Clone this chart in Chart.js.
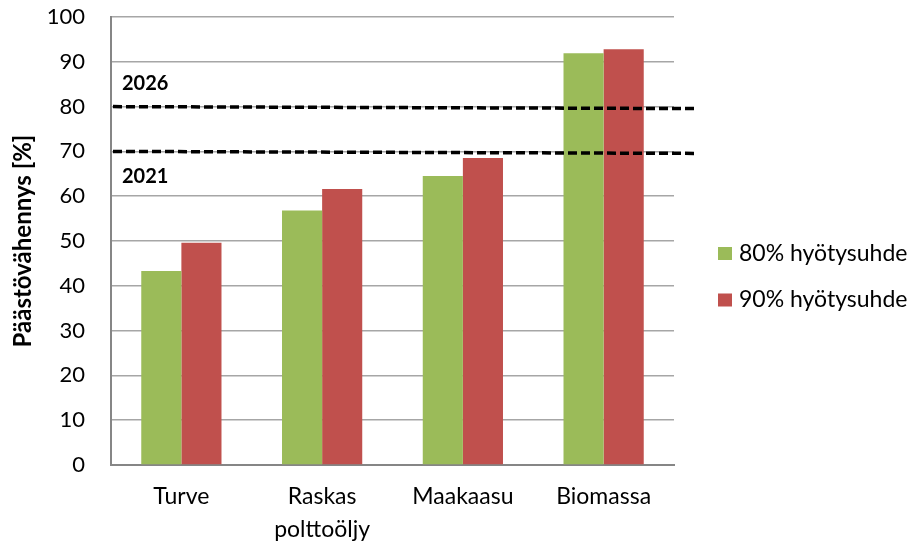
<!DOCTYPE html>
<html>
<head>
<meta charset="utf-8">
<script src="https://cdn.jsdelivr.net/npm/chart.js@4"></script>
<style>
  html, body { margin: 0; padding: 0; background: #fff; }
  #wrap { width: 918px; height: 548px; }
</style>
</head>
<body>
<div id="wrap"><canvas id="c" width="918" height="548"></canvas></div>
<script>
// Fuel categories along the x axis
const categories = ['Turve', ['Raskas', 'polttoöljy'], 'Maakaasu', 'Biomassa'];
// Emission reduction [%] at two boiler efficiencies
const eff80 = [43.3, 56.8, 64.5, 91.9];
const eff90 = [49.6, 61.6, 68.5, 92.8];
const seriesNames = ['80% hyötysuhde', '90% hyötysuhde'];
// Required reduction thresholds
const thresholds = [
  { year: '2026', value: 80, labelAbove: true },
  { year: '2021', value: 70, labelAbove: false }
];
const yTicks = { min: 0, max: 100, step: 10 };

const FONT = 'Lato, "Open Sans", sans-serif';
const GREEN = '#9BBB59';
const RED = '#C0504D';

// Dashed threshold lines with their year labels
const thresholdPlugin = {
  id: 'thresholds',
  afterDatasetsDraw(chart) {
    const { ctx, chartArea, scales } = chart;
    ctx.save();
    thresholds.forEach(t => {
      const y = scales.y.getPixelForValue(t.value);
      ctx.beginPath();
      ctx.setLineDash([9, 4]);
      ctx.lineWidth = 3.5;
      ctx.strokeStyle = '#000';
      ctx.moveTo(chartArea.left + 2, y);
      ctx.lineTo(chartArea.right + 21, y + 2);
      ctx.stroke();
      ctx.setLineDash([]);
      ctx.fillStyle = '#000';
      ctx.font = 'bold 20px ' + FONT;
      ctx.textAlign = 'left';
      ctx.textBaseline = 'middle';
      ctx.fillText(t.year, chartArea.left + 11, t.labelAbove ? y - 23 : y + 25);
    });
    ctx.restore();
  }
};

// Legend at the right side
const sideLegend = {
  id: 'sideLegend',
  afterDraw(chart) {
    const { ctx } = chart;
    ctx.save();
    chart.data.datasets.forEach((ds, i) => {
      const cy = 253.5 + i * 46.5;
      ctx.fillStyle = ds.backgroundColor;
      ctx.fillRect(718, cy - 6.5, 14, 13);
      ctx.fillStyle = '#000';
      ctx.font = '23px ' + FONT;
      ctx.textAlign = 'left';
      ctx.textBaseline = 'middle';
      ctx.fillText(ds.label, 739, cy);
    });
    ctx.restore();
  }
};

new Chart(document.getElementById('c'), {
  type: 'bar',
  data: {
    labels: categories,
    datasets: [
      { label: seriesNames[0], data: eff80, backgroundColor: GREEN },
      { label: seriesNames[1], data: eff90, backgroundColor: RED }
    ]
  },
  options: {
    responsive: false,
    animation: false,
    events: [],
    layout: { padding: { top: 17, right: 244, left: 0, bottom: 0 } },
    plugins: { legend: { display: false }, tooltip: { enabled: false } },
    datasets: { bar: { barPercentage: 1.0, categoryPercentage: 0.57 } },
    scales: {
      x: {
        grid: { display: false, drawTicks: false },
        border: { display: true, color: '#868686', width: 2 },
        ticks: { color: '#000', font: { family: FONT, size: 23, lineHeight: 1.45 }, padding: 15, maxRotation: 0, autoSkip: false },
        afterFit(s) { s.height = 83; s.paddingLeft = 0; s.paddingRight = 0; }
      },
      y: {
        min: yTicks.min, max: yTicks.max,
        grid: { color: '#a6a6a6', lineWidth: 1.5, drawTicks: false },
        border: { display: true, color: '#868686', width: 2 },
        ticks: { stepSize: yTicks.step, color: '#000', font: { family: FONT, size: 22 }, padding: 26 },
        title: {
          display: true, text: 'Päästövähennys [%]', color: '#000',
          font: { family: FONT, size: 24, weight: 'bold' }, padding: { top: 9, bottom: 0 }
        },
        afterFit(s) { s.width = 111; s.paddingTop = 0; s.paddingBottom = 0; }
      }
    }
  },
  plugins: [thresholdPlugin, sideLegend]
});
</script>
</body>
</html>
